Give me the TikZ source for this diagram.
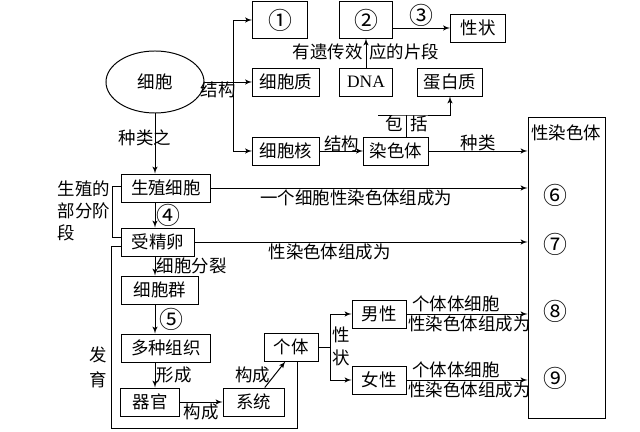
\documentclass[tikz,border=0pt]{standalone}
\usepackage{fontspec}
\setmainfont{Noto Sans CJK SC}
\newfontfamily\dnafont{Liberation Serif}
\usepackage{tikz}
\usetikzlibrary{shapes.geometric, arrows, positioning}
\newcommand{\circnum}[1]{{\fontsize{17}{17}\selectfont #1}}
\tikzstyle{box} = [rectangle, draw=black, minimum height=0.7cm, inner sep=1pt, text centered]
\tikzstyle{line} = [draw, -latex']
\tikzstyle{lbl} = [inner sep=1pt]

\begin{document}
\begin{tikzpicture}[x=0.025cm, y=-0.025cm, line width=0.7pt, font=\fontsize{12.4}{15.6}\selectfont]
    \useasboundingbox (0,0) rectangle (640,432);
    % Nodes
    \node [ellipse, draw=black, minimum width=2.45cm, minimum height=1.55cm] (cell) at (155,82) {细胞};
    \node [box, minimum width=1.375cm, minimum height=0.9cm] (q1) at (280,20) {\circnum{①}};
    \node [box, minimum width=1.325cm, minimum height=0.9cm] (q2) at (366,20) {\circnum{②}};
    \node [box, minimum width=1.375cm] (trait) at (478,28) {性状};
    \node [box, minimum width=1.675cm] (cytoplasm) at (286,82) {细胞质};
    \node [box, minimum width=1.325cm] (dna) at (366,82) {\dnafont DNA};
    \node [box, minimum width=1.625cm] (protein) at (450,82) {蛋白质};
    \node [box, minimum width=1.675cm] (nucleus) at (286,151) {细胞核};
    \node [box, minimum width=1.625cm] (chromo) at (396,151) {染色体};
    \node [box, minimum width=1.925cm, minimum height=7.5cm] (sexchr) at (566.5,268) {};
    \node [lbl] (sexchrtitle) at (566,133) {性染色体};
    \node [lbl] (q6) at (555,195) {\circnum{⑥}};
    \node [lbl] (q7) at (555,244) {\circnum{⑦}};
    \node [lbl] (q8) at (555,311) {\circnum{⑧}};
    \node [lbl] (q9) at (555,378) {\circnum{⑨}};
    \node [box, minimum width=2.2cm] (germ) at (166,188) {生殖细胞};
    \node [box, minimum width=1.825cm] (zygote) at (158,242) {受精卵};
    \node [box, minimum width=1.9cm] (cluster) at (160,290) {细胞群};
    \node [box, minimum width=2.2cm] (tissue) at (166,348) {多种组织};
    \node [box, minimum width=1.475cm] (organ) at (150,402) {器官};
    \node [box, minimum width=1.525cm] (system) at (253.5,402) {系统};
    \node [box, minimum width=1.35cm] (individual) at (291,347) {个体};
    \node [box, minimum width=1.35cm] (male) at (379,314) {男性};
    \node [box, minimum width=1.35cm] (female) at (379,380) {女性};
    \coordinate (fork) at (233,82);
    \coordinate (incl) at (406,115);
    \coordinate (inclstub) at (378,115);
    \coordinate (devcorner) at (297,428);
    \coordinate (sexfork) at (330,347);

    % Labels
    \node [lbl] (structlbl) at (218,90) {结构};
    \node [lbl] (dnalbl) at (366,52) {有遗传效\hspace{5pt}应的片段};
    \node [lbl] (baolbl) at (394,124) {包};
    \node [lbl] (kuolbl) at (419,124) {括};
    \node [lbl] (kindlbl) at (145,138) {种类之};
    \node [lbl, align=left] (stagelbl) at (84,211) {生殖的\\部分阶\\段};
    \node [lbl] (falbl) at (98,355) {发};
    \node [lbl] (yulbl) at (98,380) {育};
    \node [lbl] (xinglbl) at (341,335) {性};
    \node [lbl] (zhuanglbl) at (341,358) {状};

    % Edges
    \draw (cell.east) -- (fork);
    \path [line] (fork) |- (q1);
    \path [line] (fork) -- (cytoplasm);
    \path [line] (fork) |- (nucleus);
    \path [line] (dna) -- (q2);
    \path [line] (q2.east |- trait) -- node [lbl, above] {\circnum{③}} (trait);
    \draw (incl |- chromo.north) -- (incl);
    \path [line] (inclstub) -- (incl) -| (protein);
    \path [line] (nucleus) -- node [lbl, above, yshift=-2pt] {结构} (chromo);
    \path [line] (chromo) -- node [lbl, above, yshift=-1pt] {种类} (chromo -| sexchr.west);
    \path [line] (cell.south) -- (cell.south |- germ.north);
    \path [line] (germ) -- node [lbl, below, pos=0.46] {一个细胞性染色体组成为} (germ -| sexchr.west);
    \draw ([yshift=1pt]germ.west) -- ++(-9,0) |- ([yshift=3.5pt]zygote.west);
    \path [line] (germ.south -| cell.south) -- node [lbl, right] {\circnum{④}} (zygote.north -| cell.south);
    \path [line] (zygote) -- node [lbl, below, pos=0.405] {性染色体组成为} (zygote -| sexchr.west);
    \path [line] (zygote.south -| cell.south) -- node [lbl, right] {细胞分裂} (cluster.north -| cell.south);
    \path [line] (cluster.south -| cell.south) -- node [lbl, right, xshift=2pt] {\circnum{⑤}} (tissue.north -| cell.south);
    \path [line] (tissue.south -| cell.south) -- node [lbl, right] {形成} (organ.north -| cell.south);
    \path [line] (organ) -- node [lbl, below] {构成} (system);
    \path [line] ([xshift=8pt]system.north) -- node [lbl, left, xshift=-2pt] {构成} ([xshift=-4pt]individual.south);
    \draw ([yshift=-3.5pt]zygote.west) -- ++(-10,0) |- (devcorner) -- (devcorner |- individual.south);
    \draw (individual.east) -- (sexfork);
    \path [line] (sexfork) |- (male);
    \path [line] (sexfork) |- (female);
    \path [line] (male) -- node [lbl, above, pos=0.41] {个体体细胞} node [lbl, below, pos=0.52] {性染色体组成为} (male -| sexchr.west);
    \path [line] (female) -- node [lbl, above, pos=0.41] {个体体细胞} node [lbl, below, pos=0.52] {性染色体组成为} (female -| sexchr.west);
\end{tikzpicture}
\end{document}
